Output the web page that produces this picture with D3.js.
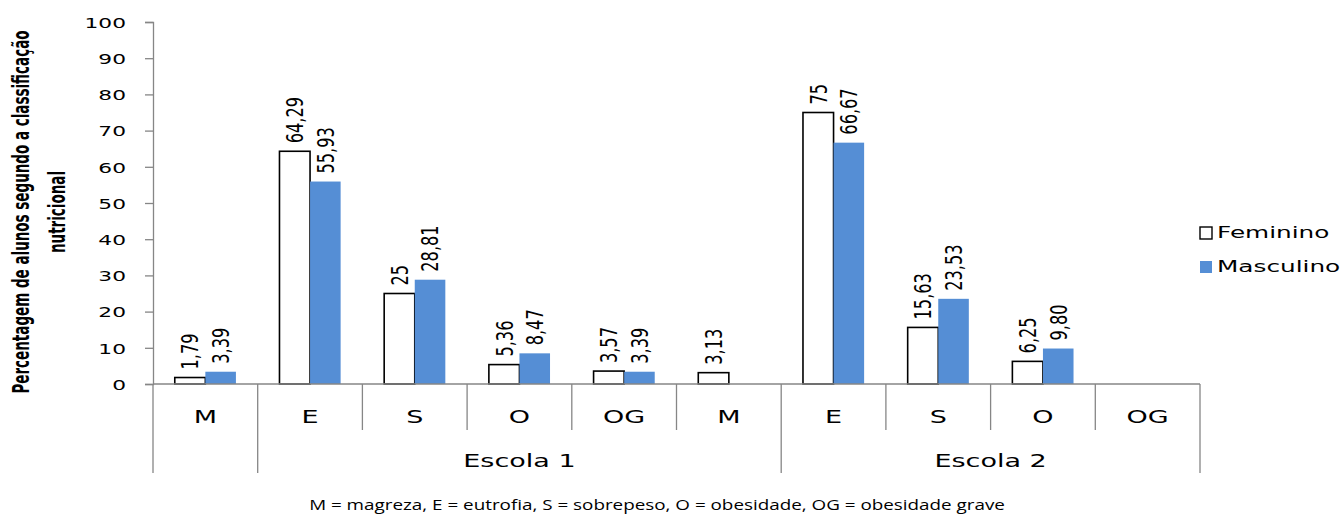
<!DOCTYPE html>
<html>
<head>
<meta charset="utf-8">
<script src="https://cdn.jsdelivr.net/npm/d3@7"></script>
<style>
  html, body { margin: 0; padding: 0; background: #fff; }
  svg { display: block; }
</style>
</head>
<body>
<svg id="chart" width="1343" height="520"></svg>
<script>
// Categories along the x axis (two schools, five nutritional classes each)
const categories = ["M", "E", "S", "O", "OG", "M", "E", "S", "O", "OG"];

// Percentages per category
const feminino  = [1.79, 64.29, 25, 5.36, 3.57, 3.13, 75, 15.63, 6.25, null];
const masculino = [3.39, 55.93, 28.81, 8.47, 3.39, null, 66.67, 23.53, 9.80, null];

// Value labels as printed above each bar
const femLabels  = ["1,79", "64,29", "25", "5,36", "3,57", "3,13", "75", "15,63", "6,25", ""];
const mascLabels = ["3,39", "55,93", "28,81", "8,47", "3,39", "", "66,67", "23,53", "9,80", ""];

// Second-level axis groups (index ranges into categories)
const groupNames  = ["", "Escola 1", "Escola 2"];
const groupStarts = [0, 1, 6];
const groupEnds   = [1, 6, 10];

const yTicks = [0, 10, 20, 30, 40, 50, 60, 70, 80, 90, 100];
const seriesNames = ["Feminino", "Masculino"];

const BLUE = "#558ed5";
const AXIS = "#868686";

const svg = d3.select("#chart");

const x = d3.scaleBand().domain(d3.range(categories.length)).range([153, 1200]).padding(0);
const y = d3.scaleLinear().domain([0, 100]).range([384, 22]);

const barW = x.bandwidth() * 0.292;

// Y axis
const yAxis = svg.append("g")
  .attr("transform", `translate(${x.range()[0]},0)`)
  .call(d3.axisLeft(y).tickValues(yTicks).tickSize(8).tickSizeOuter(8));
yAxis.selectAll("path.domain").attr("stroke", AXIS).attr("stroke-width", 1.3);
yAxis.selectAll(".tick line").attr("stroke", AXIS).attr("stroke-width", 1.3);
yAxis.selectAll(".tick text")
  .attr("x", 0).attr("dy", "0.36em")
  .attr("transform", "translate(-27,0) scale(1.5,1)")
  .attr("text-anchor", "end")
  .attr("fill", "#000")
  .style("font-family", "'DejaVu Sans', sans-serif")
  .style("font-size", "14.5px");

// Bars
const bars = svg.append("g");
categories.forEach((c, i) => {
  const cx = x(i) + x.bandwidth() / 2;
  if (feminino[i] != null) {
    bars.append("rect")
      .attr("x", cx - barW).attr("y", y(feminino[i]))
      .attr("width", barW).attr("height", y(0) - y(feminino[i]))
      .attr("fill", "#fff").attr("stroke", "#000").attr("stroke-width", 1.6);
  }
  if (masculino[i] != null) {
    bars.append("rect")
      .attr("x", cx).attr("y", y(masculino[i]))
      .attr("width", barW).attr("height", y(0) - y(masculino[i]))
      .attr("fill", BLUE);
  }
});

// Value labels (rotated)
const labels = svg.append("g")
  .style("font-family", "'DejaVu Sans Condensed', 'DejaVu Sans', sans-serif")
  .style("font-size", "18px");
function valueLabel(px, val, txt) {
  labels.append("text")
    .attr("transform", `translate(${px},${y(val) - 8}) scale(1.3,1) rotate(-90)`)
    .attr("dy", "0.36em")
    .attr("text-anchor", "start")
    .text(txt);
}
categories.forEach((c, i) => {
  const cx = x(i) + x.bandwidth() / 2;
  if (feminino[i] != null) valueLabel(cx - barW / 2, feminino[i], femLabels[i]);
  if (masculino[i] != null) valueLabel(cx + barW / 2, masculino[i], mascLabels[i]);
});

// X axis baseline
const axisG = svg.append("g").attr("stroke", AXIS).attr("stroke-width", 1.3);
axisG.append("line")
  .attr("x1", x.range()[0]).attr("x2", x.range()[1])
  .attr("y1", y(0)).attr("y2", y(0));

// Category separators: short ones between categories, long ones at group edges
const groupEdges = new Set(groupStarts.concat(groupEnds));
for (let i = 0; i <= categories.length; i++) {
  const px = i < categories.length ? x(i) : x.range()[1];
  axisG.append("line")
    .attr("x1", px).attr("x2", px)
    .attr("y1", y(0)).attr("y2", groupEdges.has(i) ? 473 : 430);
}

// Category labels
const catG = svg.append("g")
  .style("font-family", "'DejaVu Sans', sans-serif")
  .style("font-size", "18px");
categories.forEach((c, i) => {
  catG.append("text")
    .attr("transform", `translate(${x(i) + x.bandwidth() / 2},417) scale(1.5,1)`)
    .attr("text-anchor", "middle").attr("dy", "0.36em")
    .text(c);
});

// Group labels
groupNames.forEach((g, k) => {
  if (!g) return;
  const gx = (x(groupStarts[k]) + (groupEnds[k] < categories.length ? x(groupEnds[k]) : x.range()[1])) / 2;
  catG.append("text")
    .attr("transform", `translate(${gx},461) scale(1.5,1)`)
    .attr("text-anchor", "middle").attr("dy", "0.36em")
    .text(g);
});

// Y axis title (two lines)
const titleG = svg.append("g")
  .style("font-family", "'DejaVu Sans Condensed', 'DejaVu Sans', sans-serif")
  .style("font-weight", "bold")
  .style("font-size", "15px");
[["Percentagem de alunos segundo a classificação", 29], ["nutricional", 65]].forEach(([t, bx]) => {
  titleG.append("text")
    .attr("transform", `translate(${bx},212) scale(1.55,1) rotate(-90)`)
    .attr("text-anchor", "middle")
    .text(t);
});

// Legend
const legend = svg.append("g")
  .style("font-family", "'DejaVu Sans', sans-serif")
  .style("font-size", "15px");
seriesNames.forEach((s, k) => {
  const ly = 233 + k * 34;
  legend.append("rect")
    .attr("x", 1200).attr("y", ly - 6).attr("width", 12).attr("height", 12)
    .attr("fill", k === 0 ? "#fff" : BLUE)
    .attr("stroke", k === 0 ? "#000" : "none").attr("stroke-width", 1.4);
  legend.append("text")
    .attr("transform", `translate(1217,${ly}) scale(1.65,1)`)
    .attr("dy", "0.36em")
    .text(s);
});

// Footnote
svg.append("text")
  .attr("transform", "translate(657,510) scale(1.3,1)")
  .attr("text-anchor", "middle")
  .style("font-family", "'Open Sans', sans-serif")
  .style("font-size", "14.5px")
  .text("M = magreza, E = eutrofia, S = sobrepeso, O = obesidade, OG = obesidade grave");
</script>
</body>
</html>
